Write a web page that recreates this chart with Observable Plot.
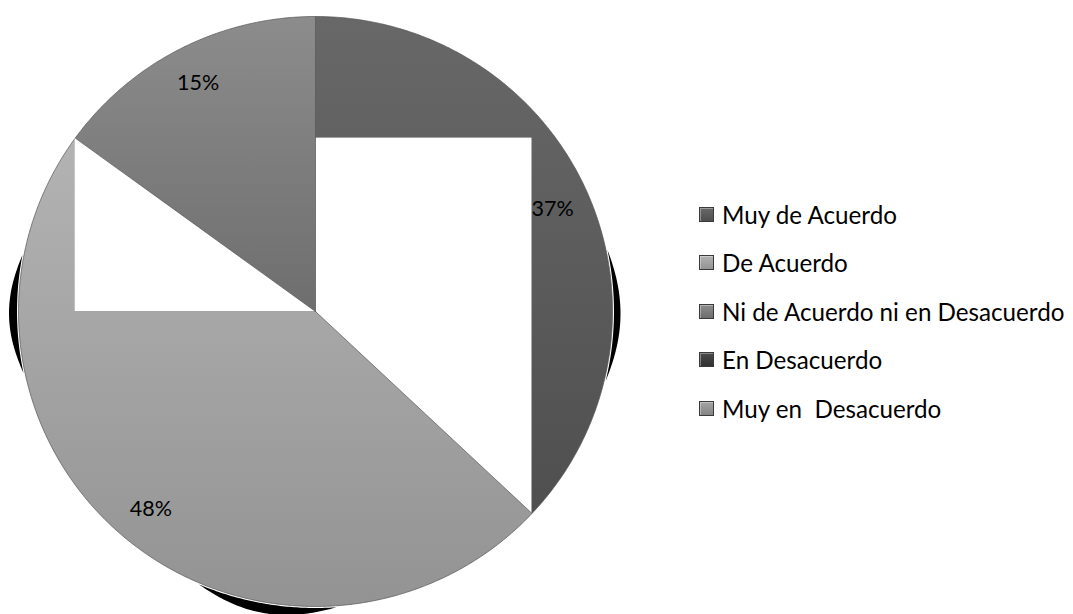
<!DOCTYPE html>
<html>
<head>
<meta charset="utf-8">
<script src="https://cdn.jsdelivr.net/npm/d3@7"></script>
<script src="https://cdn.jsdelivr.net/npm/@observablehq/plot@0.6"></script>
<style>
  html, body { margin: 0; padding: 0; background: #fff; }
  #wrap { position: relative; width: 1073px; height: 614px; overflow: hidden; }
  #legend { position: absolute; left: 699px; top: 0; font-family: Lato, "Open Sans", sans-serif; color: #000; }
  .item { position: absolute; left: 0; height: 24px; display: flex; align-items: center; white-space: pre; font-size: 24.2px; }
  .sw { width: 13px; height: 13px; border: 1px solid #3a3a3a; margin-right: 8px; box-sizing: content-box; box-shadow: inset 1px 1px 0 rgba(255,255,255,0.35); }
</style>
</head>
<body>
<div id="wrap"><div id="legend"></div></div>
<script>
// ---- data ----
const categories = ["Muy de Acuerdo", "De Acuerdo", "Ni de Acuerdo ni en Desacuerdo", "En Desacuerdo", "Muy en  Desacuerdo"];
const percents = [37, 48, 15, 0, 0];
const labels = percents.map(p => p + "%");

// ---- styles ----
const gradTop    = ["#686868", "#b3b3b3", "#8c8c8c", "#4a4a4a", "#a3a3a3"];
const gradBottom = ["#4f4f4f", "#939393", "#6e6e6e", "#303030", "#858585"];
const W = 1073, H = 614;
const labelRadius = 0.87;
// decorative shadow crescents (angles in degrees, clockwise from top; depth in radius units)
const shadowArcs = [
  {a0: 258, a1: 281, depth: 0.027},
  {a0: 78,  a1: 103.5, depth: 0.022},
  {a0: 176, a1: 203, depth: 0.032}
];

const total = d3.sum(percents);
const toRad = a => a * Math.PI / 180;
const pt = (deg, r = 1) => ({x: r * Math.sin(toRad(deg)), y: r * Math.cos(toRad(deg))});

// slices
let cum = 0;
const slices = categories.map((cat, i) => {
  const a0 = cum / total * 360;
  cum += percents[i];
  const a1 = cum / total * 360;
  return {cat, i, a0, a1, value: percents[i], label: labels[i]};
});
const visible = slices.filter(s => s.value > 0);

function slicePoints(s) {
  const pts = [{x: 0, y: 0}];
  const n = Math.max(2, Math.ceil((s.a1 - s.a0) / 0.5));
  for (let k = 0; k <= n; k++) pts.push(pt(s.a0 + (s.a1 - s.a0) * k / n));
  pts.push({x: 0, y: 0});
  return pts;
}

function shadowPoints(sh) {
  const pts = [];
  const n = 60;
  for (let k = 0; k <= n; k++) {
    const t = k / n;
    pts.push(pt(sh.a0 + (sh.a1 - sh.a0) * t, 1.005 + sh.depth * Math.sin(Math.PI * t)));
  }
  for (let k = n; k >= 0; k--) pts.push(pt(sh.a0 + (sh.a1 - sh.a0) * k / n, 1.005));
  return pts;
}

// white rendering-artifact boxes derived from the slice boundary endpoints,
// each painted right after the slice it belongs to
const e1 = pt(visible[0].a1);
const e2 = pt(visible[1].a1);
const boxes = [
  [{x1: 0, x2: e1.x, y1: e2.y, y2: e1.y}],
  [{x1: e2.x, x2: 0, y1: e2.y, y2: 0}]
];

const labelData = visible.map(s => {
  const p = pt((s.a0 + s.a1) / 2, labelRadius);
  return {x: p.x, y: p.y, text: s.label};
});

const marks = [];
shadowArcs.forEach(sh => marks.push(Plot.line(shadowPoints(sh), {x: "x", y: "y", fill: "#000", stroke: "none"})));
visible.forEach((s, j) => {
  marks.push(Plot.line(slicePoints(s), {
    x: "x", y: "y", fill: `url(#grad${s.i})`, stroke: "#555", strokeWidth: 0.7, strokeLinejoin: "round"
  }));
  if (boxes[j]) marks.push(Plot.rect(boxes[j], {x1: "x1", x2: "x2", y1: "y1", y2: "y2", fill: "#fff", inset: 0}));
});
marks.push(Plot.text(labelData, {x: "x", y: "y", text: "text", fontSize: 21.5, fill: "#000", fontFamily: "Lato, 'Open Sans', sans-serif"}));

const chart = Plot.plot({
  width: W, height: H,
  marginLeft: 18, marginRight: W - 612, marginTop: 16, marginBottom: H - 606,
  x: {domain: [-1, 1], axis: null},
  y: {domain: [-1, 1], axis: null},
  style: {background: "transparent", overflow: "visible"},
  marks
});

// gradients
const svg = d3.select(chart);
const defs = svg.insert("defs", ":first-child");
categories.forEach((c, i) => {
  const g = defs.append("linearGradient").attr("id", `grad${i}`).attr("x1", 0).attr("y1", 0).attr("x2", 0).attr("y2", 1);
  g.append("stop").attr("offset", "0%").attr("stop-color", gradTop[i]);
  g.append("stop").attr("offset", "100%").attr("stop-color", gradBottom[i]);
});
document.getElementById("wrap").prepend(chart);
chart.style.position = "absolute"; chart.style.left = "0"; chart.style.top = "0";

// legend
const legend = d3.select("#legend");
categories.forEach((c, i) => {
  const it = legend.append("div").attr("class", "item").style("top", (214.5 + i * 48.4 - 12) + "px");
  it.append("div").attr("class", "sw")
    .style("background", `linear-gradient(to bottom, ${gradTop[i]}, ${gradBottom[i]})`);
  it.append("span").text(c);
});
</script>
</body>
</html>
